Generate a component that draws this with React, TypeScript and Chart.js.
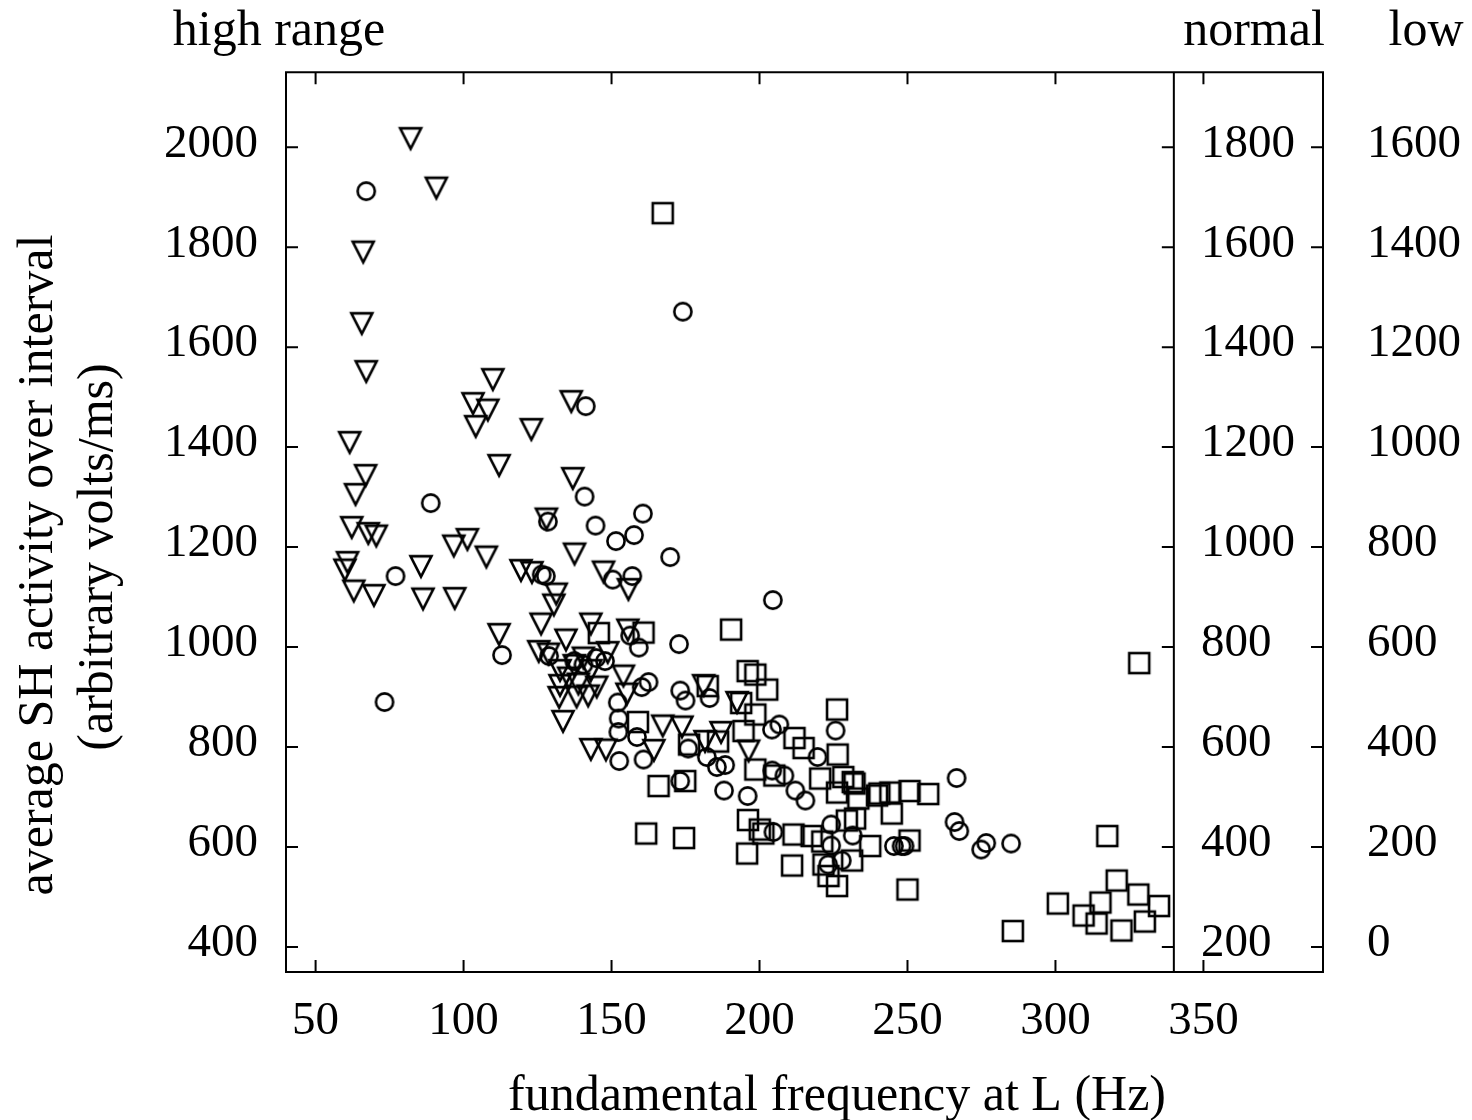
import React, { useEffect, useRef } from "react";
import { Chart, registerables } from "chart.js";

Chart.register(...registerables);

// ---- axis ticks ----
const xTickValues = [50, 100, 150, 200, 250, 300, 350];
const highRangeTicks = [400, 600, 800, 1000, 1200, 1400, 1600, 1800, 2000];
const normalTicks = [200, 400, 600, 800, 1000, 1200, 1400, 1600, 1800];
const lowTicks = [0, 200, 400, 600, 800, 1000, 1200, 1400, 1600];
const dividerFrequency = 340;

// ---- data: [fundamental frequency (Hz), average SH activity (high range)] ----
const trianglePoints: [number, number][] = [
  [82.1, 2024], [90.8, 1925], [66.1, 1797], [65.6, 1654], [67.1, 1558], [109.9, 1542],
  [103.2, 1494], [108.2, 1481], [104.1, 1448], [122.9, 1442], [112, 1370],
  [61.5, 1416], [66.9, 1350], [63.5, 1312],
  [62.2, 1246], [67.8, 1234], [70.5, 1229],
  [96.7, 1209], [101.3, 1222], [107.7, 1187],
  [60.8, 1176], [59.9, 1161], [62.9, 1119], [69.7, 1110],
  [85.6, 1168], [86.3, 1103], [97, 1104], [119.4, 1160], [112, 1032],
  [136.4, 1498], [136.9, 1344], [128, 1263], [137.5, 1193], [123.1, 1156], [147.3, 1157], [155.7, 1122],
  [131.3, 1113], [130.5, 1091], [126.2, 1053], [143, 1053], [155.5, 1041], [134.6, 1021],
  [125.4, 998], [128.7, 993], [148.7, 996], [132.6, 960], [137.4, 970], [143, 960],
  [132.6, 930], [138.8, 933], [145, 927], [132.3, 906], [138.2, 907], [142.1, 909],
  [133.6, 858], [154, 949], [155.2, 913], [140.5, 985], [135.5, 945],
  [143, 802], [148.1, 801], [164.3, 800], [167.3, 849], [173.8, 847],
  [181.1, 930], [192.4, 896], [187, 836], [196.3, 799], [181.6, 818],
];

const circlePoints: [number, number][] = [
  [67.1, 1912], [174.1, 1671], [141.3, 1482], [140.9, 1301], [88.9, 1288], [128.5, 1251],
  [144.6, 1243], [160.6, 1267], [157.6, 1224], [151.5, 1212], [169.8, 1180],
  [77, 1142], [113, 984], [73.3, 890],
  [126.4, 1145], [127.8, 1142], [150.4, 1135], [157, 1142],
  [156.3, 1023], [159.2, 999], [172.8, 1006], [204.5, 1094],
  [128.9, 982], [137.4, 972], [144.8, 978], [147.8, 972], [140.5, 965],
  [162.5, 930], [160.2, 920], [152.1, 889], [152.4, 857], [152.3, 830], [158.6, 820],
  [152.6, 772], [160.8, 775],
  [173.2, 732], [173.2, 913], [175, 893],
  [225.7, 833], [183.1, 898], [206.7, 845], [204.2, 835], [219.6, 780], [175.9, 797],
  [182.2, 780], [185.6, 760], [188, 713], [196, 702], [204.3, 753], [208.4, 743],
  [212.1, 713], [215.5, 693], [188.4, 764],
  [204.7, 630], [224.2, 645], [224.2, 603], [231.5, 623], [223.2, 565], [227.8, 573],
  [245.4, 602], [248, 602], [249, 602],
  [266.6, 738], [265.9, 650], [267.5, 632], [276.6, 608], [274.9, 595], [285, 607],
];

const squarePoints: [number, number][] = [
  [167.3, 1868], [145.7, 1028], [160.8, 1029], [190.4, 1035], [158.9, 850], [165.9, 722],
  [174.9, 732], [161.7, 627], [174.5, 618],
  [196, 952], [198.6, 945], [202.6, 915], [226.2, 875], [182.5, 922], [193.8, 888],
  [198.6, 865], [211.8, 818], [214.9, 798], [226.4, 785], [194.6, 832], [176.2, 805], [186, 811],
  [198.6, 755], [205, 743], [220.5, 737], [228.3, 740], [231.5, 730], [240.5, 707],
  [244.2, 709], [250.7, 712], [257, 706], [226.2, 709], [232.1, 727], [233.4, 697],
  [239.7, 703], [244.7, 667],
  [196.1, 654], [200.1, 635], [201.3, 627], [195.8, 587], [211.5, 625], [217.6, 622],
  [211, 563], [221.2, 611], [229.5, 653], [232.3, 657], [237.4, 602], [221.6, 565],
  [231.3, 573], [223.3, 542], [226.2, 522], [250.7, 613], [250, 515],
  [328.3, 968], [317.5, 622], [285.6, 432], [300.8, 487], [309.5, 463], [313.9, 447],
  [315.2, 489], [320.7, 533], [328, 505], [322.3, 433], [330.2, 451], [335, 482],
];

const SERIF = '"Liberation Serif", "Times New Roman", serif';

function makeCircle(): HTMLCanvasElement {
  const c = document.createElement("canvas");
  c.width = 26; c.height = 26;
  const g = c.getContext("2d")!;
  g.strokeStyle = "#000"; g.lineWidth = 2.6;
  g.beginPath(); g.arc(13, 13, 8.6, 0, Math.PI * 2); g.stroke();
  return c;
}
function makeSquare(): HTMLCanvasElement {
  const c = document.createElement("canvas");
  c.width = 28; c.height = 28;
  const g = c.getContext("2d")!;
  g.strokeStyle = "#000"; g.lineWidth = 2.6;
  g.strokeRect(4, 4, 20, 20);
  return c;
}
function makeTriangle(): HTMLCanvasElement {
  const c = document.createElement("canvas");
  c.width = 28; c.height = 36;
  const g = c.getContext("2d")!;
  g.strokeStyle = "#000"; g.lineWidth = 2.6; g.lineJoin = "miter";
  const h = 20.5;
  const top = 18 - h / 3;
  g.beginPath();
  g.moveTo(3.5, top); g.lineTo(24.5, top); g.lineTo(14, top + h); g.closePath();
  g.stroke();
  return c;
}

const framePlugin = {
  id: "framePlugin",
  afterDatasetsDraw(chart: any) {
    const { ctx, chartArea } = chart;
    const xs = chart.scales.x;
    const ys = chart.scales.y;
    const yn = chart.scales.yNormal;
    const { left, right, top, bottom } = chartArea;
    const divX = xs.getPixelForValue(dividerFrequency);
    ctx.save();
    ctx.strokeStyle = "#000";
    ctx.lineWidth = 2;
    ctx.beginPath();
    ctx.rect(left, top, right - left, bottom - top);
    ctx.moveTo(divX, top); ctx.lineTo(divX, bottom);
    const tl = 12;
    for (const v of xTickValues) {
      const px = xs.getPixelForValue(v);
      ctx.moveTo(px, bottom); ctx.lineTo(px, bottom - tl);
      ctx.moveTo(px, top); ctx.lineTo(px, top + tl);
    }
    for (const v of highRangeTicks) {
      const py = ys.getPixelForValue(v);
      ctx.moveTo(left, py); ctx.lineTo(left + tl, py);
      ctx.moveTo(divX, py); ctx.lineTo(divX - tl, py);
      ctx.moveTo(right, py); ctx.lineTo(right - tl, py);
    }
    ctx.stroke();

    ctx.fillStyle = "#000";
    // normal axis labels (inside the right panel)
    ctx.font = `47px ${SERIF}`;
    ctx.textAlign = "left";
    ctx.textBaseline = "middle";
    for (const v of normalTicks) {
      ctx.fillText(String(v), 1201, yn.getPixelForValue(v) - 3);
    }

    // titles
    ctx.font = `50px ${SERIF}`;
    ctx.textAlign = "center";
    ctx.textBaseline = "alphabetic";
    ctx.fillText("high range", 279, 45);
    ctx.fillText("normal", 1254, 45);
    ctx.fillText("low", 1426, 45);
    ctx.fillText("fundamental frequency at L (Hz)", 837, 1110);

    ctx.save();
    ctx.translate(52, 565);
    ctx.rotate(-Math.PI / 2);
    ctx.fillText("average SH activity over interval", 0, 0);
    ctx.restore();
    ctx.save();
    ctx.translate(112, 557);
    ctx.rotate(-Math.PI / 2);
    ctx.fillText("(arbitrary volts/ms)", 0, 0);
    ctx.restore();
    ctx.restore();
  },
};

export default function App() {
  const ref = useRef<HTMLCanvasElement | null>(null);
  useEffect(() => {
    if (!ref.current) return;
    const tri = makeTriangle();
    const cir = makeCircle();
    const sq = makeSquare();
    const toXY = (arr: [number, number][]) => arr.map(([x, y]) => ({ x, y }));
    const tickFont = { family: SERIF, size: 47 };
    const plain = (v: any) => String(v);
    const chart = new Chart(ref.current, {
      type: "scatter",
      data: {
        datasets: [
          { label: "circles", data: toXY(circlePoints), pointStyle: cir as any, pointRadius: 10, showLine: false },
          { label: "squares", data: toXY(squarePoints), pointStyle: sq as any, pointRadius: 10, showLine: false },
          { label: "triangles", data: toXY(trianglePoints), pointStyle: tri as any, pointRadius: 10, showLine: false },
        ],
      },
      options: {
        responsive: false,
        animation: false,
        devicePixelRatio: 1,
        layout: { padding: { top: 72, left: 0, right: 0, bottom: 0 } },
        plugins: { legend: { display: false }, tooltip: { enabled: false }, title: { display: false } },
        scales: {
          x: {
            type: "linear",
            min: 40,
            max: 390.4,
            grid: { display: false, drawTicks: false },
            border: { display: false },
            afterBuildTicks: (s: any) => { s.ticks = xTickValues.map((v) => ({ value: v })); },
            afterFit: (s: any) => { s.height = 148; },
            ticks: { font: tickFont, color: "#000", padding: 21, maxRotation: 0, autoSkip: false, callback: plain },
          },
          y: {
            type: "linear",
            position: "left",
            min: 350,
            max: 2150,
            grid: { display: false, drawTicks: false },
            border: { display: false },
            afterBuildTicks: (s: any) => { s.ticks = highRangeTicks.map((v) => ({ value: v })); },
            afterFit: (s: any) => { s.width = 286; },
            ticks: { font: tickFont, color: "#000", padding: 28, labelOffset: -3, callback: plain },
          },
          yNormal: {
            type: "linear",
            position: "right",
            display: false,
            min: 150,
            max: 1950,
            afterBuildTicks: (s: any) => { s.ticks = normalTicks.map((v) => ({ value: v })); },
          },
          yLow: {
            type: "linear",
            position: "right",
            display: true,
            min: -50,
            max: 1750,
            grid: { display: false, drawTicks: false },
            border: { display: false },
            afterBuildTicks: (s: any) => { s.ticks = lowTicks.map((v) => ({ value: v })); },
            afterFit: (s: any) => { s.width = 149; },
            ticks: { font: tickFont, color: "#000", padding: 44, labelOffset: -3, callback: plain },
          },
        },
      },
      plugins: [framePlugin],
    });
    return () => chart.destroy();
  }, []);
  return (
    <div style={{ position: "fixed", left: 0, top: 0, width: 1472, height: 1120, background: "#fff" }}>
      <canvas ref={ref} width={1472} height={1120} style={{ display: "block", width: 1472, height: 1120 }} />
    </div>
  );
}
